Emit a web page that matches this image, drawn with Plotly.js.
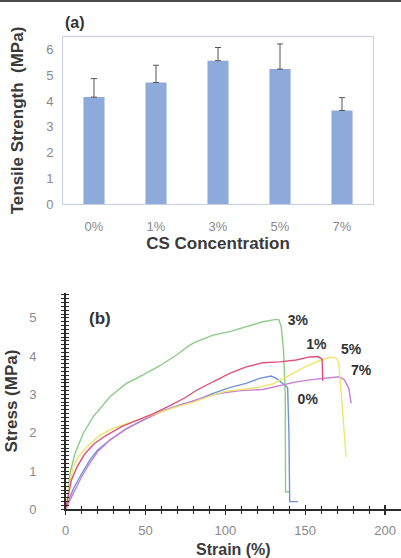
<!DOCTYPE html>
<html>
<head>
<meta charset="utf-8">
<script src="https://cdn.plot.ly/plotly-3.0.1.min.js"></script>
<style>html,body{margin:0;padding:0;background:#fff}#chart{width:401px;height:558px}</style>
</head>
<body>
<div id="chart"></div>
<script>
// ---- Panel (a): tensile strength ----
const concentrations = ['0%', '1%', '3%', '5%', '7%'];
const tensileStrength = [4.16, 4.73, 5.58, 5.25, 3.64];
const tensileErr = [0.72, 0.67, 0.51, 0.98, 0.50];

// ---- Panel (b): stress-strain curves ----
const strain0 = [0, 1.5, 2.7, 5, 8.9, 15.2, 20, 27.7, 38, 48.5, 59, 71.4, 81.9, 92.3, 102.7, 113, 121.4, 128.7, 132, 139, 139.8, 140.3, 145.5];
const stress0 = [0, 0.15, 0.33, 0.55, 0.85, 1.29, 1.55, 1.81, 2.11, 2.33, 2.55, 2.72, 2.85, 3.03, 3.18, 3.29, 3.42, 3.48, 3.42, 3.18, 2.0, 0.2, 0.2];

const strain1 = [0, 1.5, 3.5, 7, 12, 18, 25, 35, 45, 55, 65, 75, 81.9, 92.3, 102.7, 113, 123.5, 134, 144.4, 152.7, 158, 160.6, 161];
const stress1 = [0, 0.3, 0.75, 1.1, 1.45, 1.72, 1.92, 2.16, 2.32, 2.5, 2.7, 2.92, 3.11, 3.33, 3.55, 3.72, 3.83, 3.85, 3.9, 3.98, 3.99, 3.92, 3.35];

const strain3 = [0, 1, 2.7, 5.8, 11, 17.3, 27.7, 38, 48.5, 59, 69.4, 77.7, 81.9, 92.3, 102.7, 113, 123.5, 131.9, 133.5, 135, 136.4, 137.5, 137.7, 140];
const stress3 = [0, 0.24, 0.94, 1.46, 1.98, 2.42, 2.94, 3.29, 3.51, 3.75, 4.03, 4.29, 4.38, 4.55, 4.64, 4.77, 4.9, 4.96, 4.95, 4.77, 4.16, 3.0, 0.46, 0.46];

const strain5 = [0, 1.5, 4.75, 8, 13.1, 21.4, 30, 40, 50, 60, 70, 80, 90, 100, 110, 120, 130, 140, 150, 160, 166, 169, 171, 175.6];
const stress5 = [0, 0.45, 1.11, 1.38, 1.63, 1.94, 2.12, 2.27, 2.42, 2.55, 2.68, 2.8, 2.95, 3.08, 3.13, 3.18, 3.28, 3.5, 3.72, 3.9, 3.97, 3.95, 3.85, 1.37];

const strain7 = [0, 1.6, 4, 6.9, 10, 15, 20, 28, 38, 48.5, 59, 70, 80, 90, 100, 110, 123.5, 135, 144.4, 152.7, 161, 171.4, 174.6, 177.3, 178.8];
const stress7 = [0, 0.16, 0.35, 0.59, 0.85, 1.2, 1.5, 1.82, 2.1, 2.33, 2.53, 2.7, 2.83, 2.97, 3.05, 3.1, 3.13, 3.25, 3.33, 3.38, 3.42, 3.46, 3.38, 3.16, 2.77];

const curveLabels = ['0%', '1%', '3%', '5%', '7%'];
const labelStrain = [151.6, 157, 145.4, 178.8, 185];
const labelStress = [2.85, 4.29, 4.9, 4.16, 3.59];

const FONT = 'Liberation Sans, Arial, Helvetica, sans-serif';
const TITLE_COLOR = '#3a3a3a';
const TICK_COLOR = '#8a8a8a';

const traces = [
  {
    type: 'bar', x: concentrations, y: tensileStrength, xaxis: 'x', yaxis: 'y',
    marker: {color: '#8eaadb'},
    error_y: {type: 'data', symmetric: false, array: tensileErr,
      arrayminus: tensileErr.map(() => 0), color: '#555555', thickness: 1, width: 3},
    showlegend: false, hoverinfo: 'x+y'
  },
  {x: strain3, y: stress3, name: '3%', line: {color: '#8bcc86', width: 1.4}},
  {x: strain0, y: stress0, name: '0%', line: {color: '#6f93d8', width: 1.4}},
  {x: strain7, y: stress7, name: '7%', line: {color: '#c97fd4', width: 1.4}},
  {x: strain5, y: stress5, name: '5%', line: {color: '#eee66c', width: 1.4}},
  {x: strain1, y: stress1, name: '1%', line: {color: '#e0507a', width: 1.4}},
  {x: labelStrain, y: labelStress, text: curveLabels.map(t => '<b>' + t + '</b>'),
    mode: 'text', textfont: {family: FONT, size: 14, color: '#333'}, hoverinfo: 'skip'},
  // empty traces to realise the overlaid axes that carry the inner tick halves
  {x: [], y: [], xaxis: 'x3', yaxis: 'y2', hoverinfo: 'skip'},
  {x: [], y: [], xaxis: 'x2', yaxis: 'y3', hoverinfo: 'skip'}
];
traces.forEach((t, i) => {
  if (i >= 1 && i <= 6) { t.type = 'scatter'; t.xaxis = 'x2'; t.yaxis = 'y2'; t.showlegend = false; if (!t.mode) t.mode = 'lines'; }
  if (i >= 7) { t.type = 'scatter'; t.mode = 'lines'; t.showlegend = false; }
});

const axLine = '#2a2a2a';
const layout = {
  width: 401, height: 558,
  margin: {l: 0, r: 0, t: 0, b: 0},
  paper_bgcolor: '#ffffff', plot_bgcolor: '#ffffff',
  font: {family: FONT, color: TICK_COLOR},
  showlegend: false,
  bargap: 0.66,
  xaxis: {
    domain: [0.1571, 0.9302], anchor: 'y', type: 'category', range: [-0.5, 4.5],
    showline: true, mirror: true, linecolor: '#c6d0e2', linewidth: 1,
    ticks: '', showgrid: false, zeroline: false,
    tickfont: {family: FONT, size: 13, color: TICK_COLOR}, ticklabelstandoff: 10,
    title: {text: '<b>CS Concentration</b>', font: {family: FONT, size: 17, color: TITLE_COLOR}, standoff: 2}
  },
  yaxis: {
    domain: [0.6344, 0.9337], anchor: 'x', range: [0, 6.5], dtick: 1,
    showline: true, mirror: true, linecolor: '#c6d0e2', linewidth: 1,
    ticks: '', showgrid: false, zeroline: false,
    tickfont: {family: FONT, size: 13, color: TICK_COLOR}, ticklabelstandoff: 6,
    title: {text: '<b>Tensile Strength  (MPa)</b>', font: {family: FONT, size: 17, color: TITLE_COLOR}, standoff: 18}
  },
  xaxis2: {
    domain: [0.1638, 1], anchor: 'y2', range: [0, 210], dtick: 50, tick0: 0,
    showline: true, linecolor: axLine, linewidth: 1.5,
    ticks: 'outside', ticklen: 4, tickcolor: axLine, tickwidth: 1.2,
    minor: {dtick: 10, ticks: 'outside', ticklen: 3, tickcolor: axLine, tickwidth: 1},
    showgrid: false, zeroline: false,
    tickfont: {family: FONT, size: 13, color: TICK_COLOR}, ticklabelstandoff: 5,
    title: {text: '<b>Strain (%)</b>', font: {family: FONT, size: 16, color: TITLE_COLOR}, standoff: 6}
  },
  xaxis3: {
    domain: [0.1638, 1], anchor: 'y2', overlaying: 'x2', range: [0, 210], dtick: 50, tick0: 0,
    showline: false, showticklabels: false,
    ticks: 'inside', ticklen: 4, tickcolor: axLine, tickwidth: 1.2,
    minor: {dtick: 10, ticks: 'inside', ticklen: 3, tickcolor: axLine, tickwidth: 1},
    showgrid: false, zeroline: false
  },
  yaxis2: {
    domain: [0.0873, 0.4749], anchor: 'x2', range: [0, 5.65], dtick: 1, tick0: 0,
    showline: true, linecolor: axLine, linewidth: 1.5,
    ticks: 'outside', ticklen: 3, tickcolor: axLine, tickwidth: 1,
    minor: {dtick: 0.1, ticks: 'outside', ticklen: 3, tickcolor: axLine, tickwidth: 1},
    showgrid: false, zeroline: false,
    tickfont: {family: FONT, size: 13, color: TICK_COLOR}, ticklabelstandoff: 22,
    title: {text: '<b>Stress (MPa)</b>', font: {family: FONT, size: 17, color: TITLE_COLOR}, standoff: 7}
  },
  yaxis3: {
    domain: [0.0873, 0.4749], anchor: 'x2', overlaying: 'y2', range: [0, 5.65], dtick: 1, tick0: 0,
    showline: false, showticklabels: false,
    ticks: 'inside', ticklen: 3, tickcolor: axLine, tickwidth: 1,
    minor: {dtick: 0.1, ticks: 'inside', ticklen: 3, tickcolor: axLine, tickwidth: 1},
    showgrid: false, zeroline: false
  },
  annotations: [
    {text: '<b>(a)</b>', xref: 'paper', yref: 'paper', x: 75 / 401, y: 1 - 22 / 558,
      xanchor: 'center', yanchor: 'middle',
      showarrow: false, font: {family: FONT, size: 16, color: '#333'}},
    {text: '<b>(b)</b>', xref: 'paper', yref: 'paper', x: 100 / 401, y: 1 - 318 / 558,
      xanchor: 'center', yanchor: 'middle',
      showarrow: false, font: {family: FONT, size: 17, color: '#333'}}
  ],
  shapes: [
    {type: 'line', xref: 'paper', yref: 'paper', x0: 0, x1: 1, y0: 1, y1: 1,
      line: {color: '#4a4a4a', width: 4}}
  ]
};

Plotly.newPlot('chart', traces, layout, {displayModeBar: false, staticPlot: true});
</script>
</body>
</html>
